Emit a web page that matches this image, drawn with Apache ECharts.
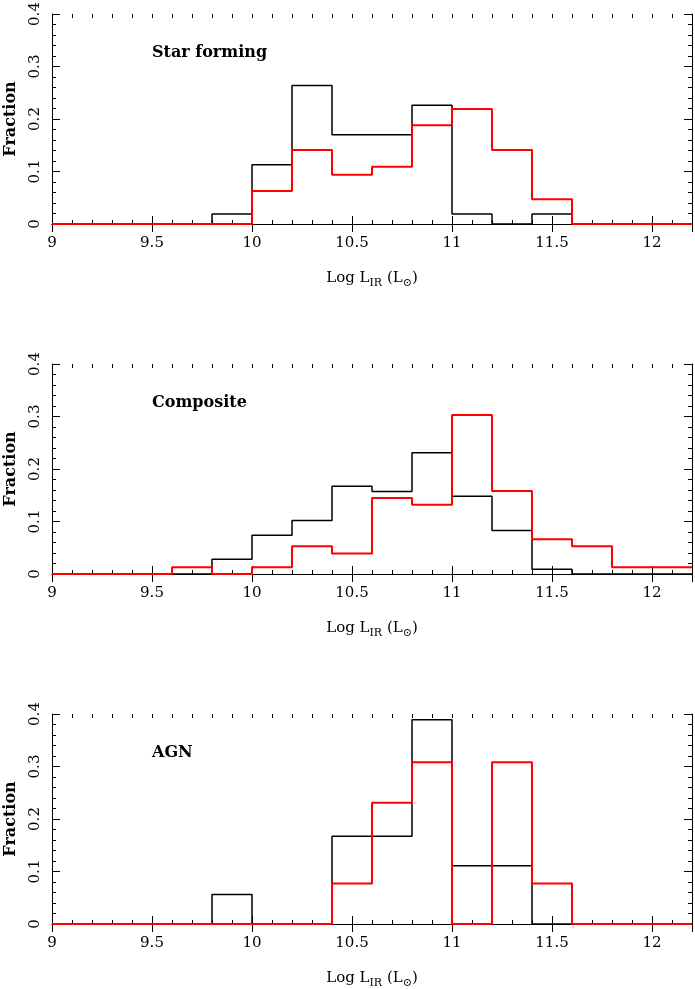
<!DOCTYPE html>
<html>
<head>
<meta charset="utf-8">
<script src="https://cdn.jsdelivr.net/npm/echarts@6/dist/echarts.min.js"></script>
<style>
  html, body { margin: 0; padding: 0; background: #fff; }
  #chart { width: 695px; height: 989px; }
</style>
</head>
<body>
<div id="chart"></div>
<script>
// bin left edges (width 0.2), last edge closes the histogram
let binEdges = [9.0, 9.2, 9.4, 9.6, 9.8, 10.0, 10.2, 10.4, 10.6, 10.8, 11.0, 11.2, 11.4, 11.6, 11.8, 12.0];
let lastEdge = 12.2;
let xTickLabels = [9, 9.5, 10, 10.5, 11, 11.5, 12];
let panelNames = ['Star forming', 'Composite', 'AGN'];

// fraction per bin
let sfBlack   = [0, 0, 0, 0, 0.019, 0.113, 0.264, 0.170, 0.170, 0.226, 0.019, 0, 0.019, 0, 0, 0];
let sfRed     = [0, 0, 0, 0, 0, 0.063, 0.141, 0.094, 0.109, 0.188, 0.219, 0.141, 0.047, 0, 0, 0];
let compBlack = [0, 0, 0, 0, 0.028, 0.074, 0.102, 0.167, 0.157, 0.231, 0.148, 0.083, 0.009, 0, 0, 0];
let compRed   = [0, 0, 0, 0.013, 0, 0.013, 0.053, 0.039, 0.145, 0.132, 0.303, 0.158, 0.066, 0.053, 0.013, 0.013];
let agnBlack  = [0, 0, 0, 0, 0.056, 0, 0, 0.167, 0.167, 0.389, 0.111, 0.111, 0, 0, 0, 0];
let agnRed    = [0, 0, 0, 0, 0, 0, 0, 0.077, 0.231, 0.308, 0, 0.308, 0.077, 0, 0, 0];

let panelData = [[sfBlack, sfRed], [compBlack, compRed], [agnBlack, agnRed]];
let panelTops = [14, 364, 714];

const FONT = 'DejaVu Serif';

function stepData(vals) {
  let d = binEdges.map(function (e, i) { return [e, vals[i]]; });
  d.push([lastEdge, vals[vals.length - 1]]);
  return d;
}

let option = { animation: false, grid: [], xAxis: [], yAxis: [], series: [], title: [] };

panelTops.forEach(function (top, p) {
  let g = p * 2;      // main grid
  let gm = p * 2 + 1; // overlay grid for the 0.1 minor ticks on x
  let box = { left: 52, top: top, width: 640, height: 210, containLabel: false, outerBoundsMode: 'none' };
  option.grid.push(Object.assign({}, box), Object.assign({}, box));

  let line = { show: true, lineStyle: { color: '#000', width: 1 } };
  let major = { inside: true, length: 8, lineStyle: { color: '#000', width: 1 } };
  let minor = { inside: true, length: 4, lineStyle: { color: '#000', width: 1 } };
  // main x axes (bottom with labels, top mirror)
  option.xAxis.push({
    gridIndex: g, type: 'value', position: 'bottom', min: 9, max: 12.2, interval: 0.5,
    axisLine: line, splitLine: { show: false }, axisTick: major,
    axisLabel: { margin: 12, color: '#000', fontFamily: FONT, fontSize: 15, showMaxLabel: false,
                 formatter: function (v) { return xTickLabels.indexOf(v) >= 0 ? String(v) : ''; } },
    name: 'Log L{s|IR} (L{s|⊙})', nameLocation: 'middle', nameGap: 44,
    nameTextStyle: { color: '#000', fontFamily: FONT, fontSize: 15,
      rich: { s: { fontSize: 11, fontFamily: FONT, color: '#000', padding: [10, 0, 0, 0] } } }
  });
  option.xAxis.push({
    gridIndex: g, type: 'value', position: 'top', min: 9, max: 12.2, interval: 0.5,
    axisLine: line, splitLine: { show: false }, axisLabel: { show: false }, axisTick: major
  });
  // minor x ticks
  option.xAxis.push({
    gridIndex: gm, type: 'value', position: 'bottom', min: 9, max: 12.2, interval: 0.1,
    axisLine: { show: false }, splitLine: { show: false }, axisLabel: { show: false }, axisTick: minor
  });
  option.xAxis.push({
    gridIndex: gm, type: 'value', position: 'top', min: 9, max: 12.2, interval: 0.1,
    axisLine: { show: false }, splitLine: { show: false }, axisLabel: { show: false }, axisTick: minor
  });

  // y axes
  option.yAxis.push({
    gridIndex: g, type: 'value', position: 'left', min: 0, max: 0.4, interval: 0.1,
    axisLine: line, splitLine: { show: false }, axisTick: major,
    minorTick: { show: true, splitNumber: 5, length: 4, lineStyle: { color: '#000', width: 1 } },
    axisLabel: { rotate: 90, margin: 9, color: '#000', fontFamily: FONT, fontSize: 15 },
    name: 'Fraction', nameLocation: 'middle', nameGap: 33,
    nameTextStyle: { color: '#000', fontFamily: FONT, fontSize: 16, fontWeight: 'bold' }
  });
  option.yAxis.push({
    gridIndex: g, type: 'value', position: 'right', min: 0, max: 0.4, interval: 0.1,
    axisLine: line, splitLine: { show: false }, axisLabel: { show: false }, axisTick: major,
    minorTick: { show: true, splitNumber: 5, length: 4, lineStyle: { color: '#000', width: 1 } }
  });
  option.yAxis.push({ gridIndex: gm, type: 'value', min: 0, max: 0.4, show: false });

  let xi = p * 4, yi = p * 3;
  option.series.push({
    type: 'line', xAxisIndex: xi, yAxisIndex: yi, step: 'end', symbol: 'none',
    data: stepData(panelData[p][0]), lineStyle: { color: '#000', width: 1.5 }, z: 3
  });
  option.series.push({
    type: 'line', xAxisIndex: xi, yAxisIndex: yi, step: 'end', symbol: 'none',
    data: stepData(panelData[p][1]), lineStyle: { color: '#ff0000', width: 2 }, z: 4
  });

  option.title.push({
    text: panelNames[p], left: 152, top: top + 31, padding: 0,
    textStyle: { color: '#000', fontFamily: FONT, fontSize: 16, fontWeight: 'bold' }
  });
});

let myChart = echarts.init(document.getElementById('chart'));
myChart.setOption(option);
</script>
</body>
</html>
